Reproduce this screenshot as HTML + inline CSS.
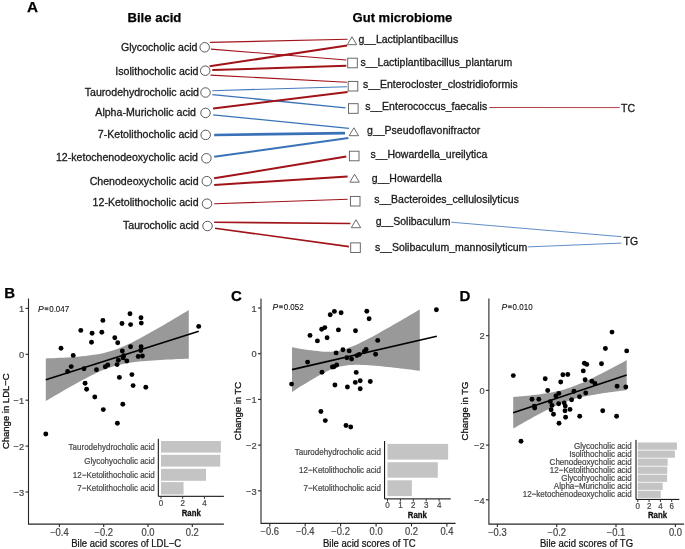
<!DOCTYPE html>
<html><head><meta charset="utf-8"><style>
html,body{margin:0;padding:0;background:#fff;}
svg{display:block;font-family:"Liberation Sans", sans-serif;will-change:transform;}
</style></head><body>
<svg width="685" height="549" viewBox="0 0 685 549">
<rect width="685" height="549" fill="#fff"/>
<text stroke="#000" stroke-width="0.25" x="27" y="11.8" font-size="15.3" font-weight="bold">A</text>
<text stroke="#000" stroke-width="0.25" x="127.5" y="22.3" font-size="13.1" font-weight="bold">Bile acid</text>
<text stroke="#000" stroke-width="0.25" x="352.6" y="22.2" font-size="13" font-weight="bold">Gut microbiome</text>
<line x1="210.0" y1="42.4" x2="347.6" y2="39.3" stroke="#a01319" stroke-width="1.1" stroke-opacity="1"/>
<line x1="210.9" y1="49.1" x2="346.3" y2="60.0" stroke="#a01319" stroke-width="1.1" stroke-opacity="1"/>
<line x1="209.6" y1="66.3" x2="347.1" y2="45.6" stroke="#a01319" stroke-width="2.0" stroke-opacity="1"/>
<line x1="212.3" y1="70.1" x2="346.3" y2="65.7" stroke="#a01319" stroke-width="2.0" stroke-opacity="1"/>
<line x1="210.5" y1="75.1" x2="346.9" y2="82.3" stroke="#a01319" stroke-width="1.1" stroke-opacity="1"/>
<line x1="212.3" y1="90.7" x2="346.9" y2="86.7" stroke="#3a72b8" stroke-width="1.15" stroke-opacity="0.95"/>
<line x1="212.3" y1="94.6" x2="345.5" y2="107.8" stroke="#3a72b8" stroke-width="1.3" stroke-opacity="1"/>
<line x1="213.1" y1="108.6" x2="347.6" y2="92.0" stroke="#a01319" stroke-width="2.0" stroke-opacity="1"/>
<line x1="213.1" y1="114.9" x2="349.0" y2="128.4" stroke="#3a72b8" stroke-width="1.3" stroke-opacity="1"/>
<line x1="214.2" y1="135.0" x2="345.0" y2="133.1" stroke="#3a72b8" stroke-width="2.6" stroke-opacity="1"/>
<line x1="214.2" y1="156.8" x2="348.4" y2="138.1" stroke="#3a72b8" stroke-width="2.0" stroke-opacity="1"/>
<line x1="214.2" y1="178.3" x2="346.3" y2="156.5" stroke="#a01319" stroke-width="2.0" stroke-opacity="1"/>
<line x1="214.2" y1="184.9" x2="347.6" y2="176.5" stroke="#a01319" stroke-width="2.0" stroke-opacity="1"/>
<line x1="214.2" y1="203.8" x2="347.6" y2="199.3" stroke="#a01319" stroke-width="1.1" stroke-opacity="1"/>
<line x1="214.2" y1="222.2" x2="350.3" y2="223.5" stroke="#a01319" stroke-width="1.6" stroke-opacity="1"/>
<line x1="215.0" y1="228.2" x2="349.0" y2="246.6" stroke="#a01319" stroke-width="1.6" stroke-opacity="1"/>
<line x1="489.3" y1="107.5" x2="619.7" y2="107.6" stroke="#a01319" stroke-width="0.9" stroke-opacity="0.9"/>
<line x1="451.2" y1="222.2" x2="621.4" y2="236.7" stroke="#3a72b8" stroke-width="0.9" stroke-opacity="0.9"/>
<line x1="527.7" y1="246.9" x2="621.4" y2="243.1" stroke="#3a72b8" stroke-width="0.9" stroke-opacity="0.9"/>
<text stroke="#1a1a1a" stroke-width="0.3" x="197.5" y="51.2" font-size="10.6" text-anchor="end" fill="#1a1a1a">Glycocholic acid</text>
<circle cx="204.7" cy="47.3" r="4.75" fill="#fff" stroke="#505050" stroke-width="0.95"/>
<text stroke="#1a1a1a" stroke-width="0.3" x="198.39999999999998" y="74.6" font-size="10.6" text-anchor="end" fill="#1a1a1a">Isolithocholic acid</text>
<circle cx="205.2" cy="70.7" r="4.75" fill="#fff" stroke="#505050" stroke-width="0.95"/>
<text stroke="#1a1a1a" stroke-width="0.3" x="199.0" y="96.4" font-size="10.6" text-anchor="end" fill="#1a1a1a">Taurodehydrocholic acid</text>
<circle cx="205.5" cy="92.5" r="4.75" fill="#fff" stroke="#505050" stroke-width="0.95"/>
<text stroke="#1a1a1a" stroke-width="0.3" x="196.0" y="116.2" font-size="10.6" text-anchor="end" fill="#1a1a1a">Alpha-Muricholic acid</text>
<circle cx="205.5" cy="112.9" r="4.75" fill="#fff" stroke="#505050" stroke-width="0.95"/>
<text stroke="#1a1a1a" stroke-width="0.3" x="197.89999999999998" y="138.4" font-size="10.6" text-anchor="end" fill="#1a1a1a">7-Ketolithocholic acid</text>
<circle cx="205.7" cy="134.9" r="4.75" fill="#fff" stroke="#505050" stroke-width="0.95"/>
<text stroke="#1a1a1a" stroke-width="0.3" x="197.89999999999998" y="161.4" font-size="10.6" text-anchor="end" fill="#1a1a1a">12-ketochenodeoxycholic acid</text>
<circle cx="206.4" cy="158.3" r="4.75" fill="#fff" stroke="#505050" stroke-width="0.95"/>
<text stroke="#1a1a1a" stroke-width="0.3" x="198.6" y="184.7" font-size="10.6" text-anchor="end" fill="#1a1a1a">Chenodeoxycholic acid</text>
<circle cx="206.8" cy="181.2" r="4.75" fill="#fff" stroke="#505050" stroke-width="0.95"/>
<text stroke="#1a1a1a" stroke-width="0.3" x="198.6" y="206.2" font-size="10.6" text-anchor="end" fill="#1a1a1a">12-Ketolithocholic acid</text>
<circle cx="207.0" cy="203.7" r="4.75" fill="#fff" stroke="#505050" stroke-width="0.95"/>
<text stroke="#1a1a1a" stroke-width="0.3" x="199.0" y="229.1" font-size="10.6" text-anchor="end" fill="#1a1a1a">Taurocholic acid</text>
<circle cx="207.5" cy="226.0" r="4.75" fill="#fff" stroke="#505050" stroke-width="0.95"/>
<text stroke="#1a1a1a" stroke-width="0.3" x="358.4" y="43.1" font-size="10.5" fill="#1a1a1a">g__Lactiplantibacillus</text>
<path d="M347.30,44.70 L352.00,36.80 L356.70,44.70 Z" fill="#fff" stroke="#5a5a5a" stroke-width="0.9" stroke-linejoin="miter"/>
<text stroke="#1a1a1a" stroke-width="0.3" x="360.5" y="65.5" font-size="10.5" fill="#1a1a1a">s__Lactiplantibacillus_plantarum</text>
<rect x="347.7" y="58.2" width="9.6" height="9.6" fill="#fff" stroke="#5a5a5a" stroke-width="0.9"/>
<text stroke="#1a1a1a" stroke-width="0.3" x="363.1" y="87.8" font-size="10.5" fill="#1a1a1a">s__Enterocloster_clostridioformis</text>
<rect x="348.2" y="81.4" width="9.6" height="9.6" fill="#fff" stroke="#5a5a5a" stroke-width="0.9"/>
<text stroke="#1a1a1a" stroke-width="0.3" x="365.2" y="110.1" font-size="10.5" fill="#1a1a1a">s__Enterococcus_faecalis</text>
<rect x="348.5" y="103.7" width="9.6" height="9.6" fill="#fff" stroke="#5a5a5a" stroke-width="0.9"/>
<text stroke="#1a1a1a" stroke-width="0.3" x="367.1" y="133.7" font-size="10.5" fill="#1a1a1a">g__Pseudoflavonifractor</text>
<path d="M349.20,135.70 L353.90,127.80 L358.60,135.70 Z" fill="#fff" stroke="#5a5a5a" stroke-width="0.9" stroke-linejoin="miter"/>
<text stroke="#1a1a1a" stroke-width="0.3" x="370.5" y="158.1" font-size="10.5" fill="#1a1a1a">s__Howardella_ureilytica</text>
<rect x="349.4" y="151.2" width="9.6" height="9.6" fill="#fff" stroke="#5a5a5a" stroke-width="0.9"/>
<text stroke="#1a1a1a" stroke-width="0.3" x="371.8" y="181.7" font-size="10.5" fill="#1a1a1a">g__Howardella</text>
<path d="M349.90,182.20 L354.60,174.30 L359.30,182.20 Z" fill="#fff" stroke="#5a5a5a" stroke-width="0.9" stroke-linejoin="miter"/>
<text stroke="#1a1a1a" stroke-width="0.3" x="374.2" y="202.8" font-size="10.5" fill="#1a1a1a">s__Bacteroides_cellulosilyticus</text>
<rect x="350.4" y="196.39999999999998" width="9.6" height="9.6" fill="#fff" stroke="#5a5a5a" stroke-width="0.9"/>
<text stroke="#1a1a1a" stroke-width="0.3" x="375.7" y="225.1" font-size="10.5" fill="#1a1a1a">g__Solibaculum</text>
<path d="M351.30,227.70 L356.00,219.80 L360.70,227.70 Z" fill="#fff" stroke="#5a5a5a" stroke-width="0.9" stroke-linejoin="miter"/>
<text stroke="#1a1a1a" stroke-width="0.3" x="375.0" y="250.6" font-size="10.5" fill="#1a1a1a">s__Solibaculum_mannosilyticum</text>
<rect x="350.7" y="242.89999999999998" width="9.6" height="9.6" fill="#fff" stroke="#5a5a5a" stroke-width="0.9"/>
<text stroke="#1a1a1a" stroke-width="0.3" x="621" y="111.6" font-size="10.5" fill="#1a1a1a">TC</text>
<text stroke="#1a1a1a" stroke-width="0.3" x="623.5" y="245.0" font-size="10.5" fill="#1a1a1a">TG</text>
<text stroke="#000" stroke-width="0.25" x="4.3" y="298" font-size="15" font-weight="bold">B</text>
<path d="M45.80,358.50 L49.38,358.35 L52.95,358.19 L56.52,358.02 L60.10,357.84 L63.67,357.64 L67.25,357.43 L70.82,357.20 L74.40,356.94 L77.97,356.66 L81.55,356.34 L85.12,355.98 L88.70,355.58 L92.28,355.11 L95.85,354.56 L99.42,353.93 L103.00,353.19 L106.57,352.33 L110.15,351.34 L113.72,350.21 L117.30,348.93 L120.88,347.52 L124.45,345.99 L128.02,344.36 L131.60,342.63 L135.18,340.83 L138.75,338.97 L142.32,337.05 L145.90,335.10 L149.47,333.11 L153.05,331.09 L156.62,329.05 L160.20,326.99 L163.77,324.91 L167.35,322.82 L170.93,320.72 L174.50,318.60 L178.07,316.48 L181.65,314.35 L185.23,312.22 L188.80,310.08 L188.80,358.68 L185.23,358.81 L181.65,358.94 L178.07,359.08 L174.50,359.23 L170.93,359.39 L167.35,359.56 L163.77,359.74 L160.20,359.93 L156.62,360.15 L153.05,360.38 L149.47,360.63 L145.90,360.91 L142.32,361.23 L138.75,361.58 L135.18,361.99 L131.60,362.46 L128.02,363.00 L124.45,363.64 L120.88,364.38 L117.30,365.24 L113.72,366.24 L110.15,367.38 L106.57,368.66 L103.00,370.07 L99.42,371.60 L95.85,373.24 L92.28,374.97 L88.70,376.77 L85.12,378.63 L81.55,380.55 L77.97,382.50 L74.40,384.49 L70.82,386.51 L67.25,388.55 L63.67,390.60 L60.10,392.68 L56.52,394.77 L52.95,396.87 L49.38,398.98 L45.80,401.10 Z" fill="#999999"/>
<line x1="45.8" y1="379.8" x2="198.8" y2="331.2" stroke="#000" stroke-width="1.6"/>
<circle cx="45.8" cy="434" r="2.45" fill="#000"/>
<circle cx="61" cy="348.2" r="2.45" fill="#000"/>
<circle cx="67.6" cy="371.5" r="2.45" fill="#000"/>
<circle cx="71.2" cy="366.6" r="2.45" fill="#000"/>
<circle cx="73.2" cy="355.4" r="2.45" fill="#000"/>
<circle cx="80.8" cy="330.4" r="2.45" fill="#000"/>
<circle cx="84" cy="368.7" r="2.45" fill="#000"/>
<circle cx="85.1" cy="383.3" r="2.45" fill="#000"/>
<circle cx="86.6" cy="389.2" r="2.45" fill="#000"/>
<circle cx="91.5" cy="342.2" r="2.45" fill="#000"/>
<circle cx="92.1" cy="333.2" r="2.45" fill="#000"/>
<circle cx="94.8" cy="397" r="2.45" fill="#000"/>
<circle cx="96.5" cy="369.8" r="2.45" fill="#000"/>
<circle cx="101.8" cy="332.2" r="2.45" fill="#000"/>
<circle cx="102.9" cy="320.4" r="2.45" fill="#000"/>
<circle cx="103.3" cy="409.6" r="2.45" fill="#000"/>
<circle cx="105.2" cy="366.8" r="2.45" fill="#000"/>
<circle cx="107.8" cy="365" r="2.45" fill="#000"/>
<circle cx="114.8" cy="337.8" r="2.45" fill="#000"/>
<circle cx="117.1" cy="364.6" r="2.45" fill="#000"/>
<circle cx="117.4" cy="423.3" r="2.45" fill="#000"/>
<circle cx="117.7" cy="342.8" r="2.45" fill="#000"/>
<circle cx="118.3" cy="360.3" r="2.45" fill="#000"/>
<circle cx="119.4" cy="377.4" r="2.45" fill="#000"/>
<circle cx="122" cy="323.5" r="2.45" fill="#000"/>
<circle cx="122.3" cy="351" r="2.45" fill="#000"/>
<circle cx="122.8" cy="404.2" r="2.45" fill="#000"/>
<circle cx="123.1" cy="357.9" r="2.45" fill="#000"/>
<circle cx="123.7" cy="355.8" r="2.45" fill="#000"/>
<circle cx="126.8" cy="361" r="2.45" fill="#000"/>
<circle cx="130" cy="313.7" r="2.45" fill="#000"/>
<circle cx="130.6" cy="324.6" r="2.45" fill="#000"/>
<circle cx="130.6" cy="346.8" r="2.45" fill="#000"/>
<circle cx="131.9" cy="374.6" r="2.45" fill="#000"/>
<circle cx="133.1" cy="385.6" r="2.45" fill="#000"/>
<circle cx="141" cy="317.7" r="2.45" fill="#000"/>
<circle cx="141.3" cy="323.1" r="2.45" fill="#000"/>
<circle cx="141.1" cy="346.8" r="2.45" fill="#000"/>
<circle cx="140.7" cy="350.5" r="2.45" fill="#000"/>
<circle cx="138.2" cy="356.5" r="2.45" fill="#000"/>
<circle cx="142.4" cy="356" r="2.45" fill="#000"/>
<circle cx="145.8" cy="387.3" r="2.45" fill="#000"/>
<circle cx="198.7" cy="326.4" r="2.45" fill="#000"/>
<path d="M28.5,298.4 V524.1 H223.9" fill="none" stroke="#262626" stroke-width="1.1" />
<line x1="25.5" y1="308.4" x2="28.5" y2="308.4" stroke="#262626" stroke-width="1.1"/>
<text stroke="#474747" stroke-width="0.2" transform="translate(24.20,312.10) scale(1,1.06)" font-size="9.3" text-anchor="end" fill="#474747">1</text>
<line x1="25.5" y1="354.3" x2="28.5" y2="354.3" stroke="#262626" stroke-width="1.1"/>
<text stroke="#474747" stroke-width="0.2" transform="translate(24.20,358.00) scale(1,1.06)" font-size="9.3" text-anchor="end" fill="#474747">0</text>
<line x1="25.5" y1="400.2" x2="28.5" y2="400.2" stroke="#262626" stroke-width="1.1"/>
<text stroke="#474747" stroke-width="0.2" transform="translate(24.20,403.90) scale(1,1.06)" font-size="9.3" text-anchor="end" fill="#474747">−1</text>
<line x1="25.5" y1="446.1" x2="28.5" y2="446.1" stroke="#262626" stroke-width="1.1"/>
<text stroke="#474747" stroke-width="0.2" transform="translate(24.20,449.80) scale(1,1.06)" font-size="9.3" text-anchor="end" fill="#474747">−2</text>
<line x1="25.5" y1="492.0" x2="28.5" y2="492.0" stroke="#262626" stroke-width="1.1"/>
<text stroke="#474747" stroke-width="0.2" transform="translate(24.20,495.70) scale(1,1.06)" font-size="9.3" text-anchor="end" fill="#474747">−3</text>
<line x1="59.4" y1="524.1" x2="59.4" y2="527.1" stroke="#262626" stroke-width="1.1"/>
<text stroke="#474747" stroke-width="0.2" transform="translate(59.40,535.90) scale(1,1.08)" font-size="9.4" text-anchor="middle" fill="#474747">−0.4</text>
<line x1="103.7" y1="524.1" x2="103.7" y2="527.1" stroke="#262626" stroke-width="1.1"/>
<text stroke="#474747" stroke-width="0.2" transform="translate(103.70,535.90) scale(1,1.08)" font-size="9.4" text-anchor="middle" fill="#474747">−0.2</text>
<line x1="148.0" y1="524.1" x2="148.0" y2="527.1" stroke="#262626" stroke-width="1.1"/>
<text stroke="#474747" stroke-width="0.2" transform="translate(148.00,535.90) scale(1,1.08)" font-size="9.4" text-anchor="middle" fill="#474747">0.0</text>
<line x1="192.3" y1="524.1" x2="192.3" y2="527.1" stroke="#262626" stroke-width="1.1"/>
<text stroke="#474747" stroke-width="0.2" transform="translate(192.30,535.90) scale(1,1.08)" font-size="9.4" text-anchor="middle" fill="#474747">0.2</text>
<text stroke="#111" stroke-width="0.2" transform="translate(126.20,547.40) scale(1,1.18)" font-size="9.55" text-anchor="middle" fill="#111">Bile acid scores of LDL−C</text>
<text stroke="#111" stroke-width="0.3" transform="translate(9.0,411.2) rotate(-90)" x="0" y="0" font-size="9.5" text-anchor="middle" fill="#111">Change in LDL−C</text>
<text stroke="#111" stroke-width="0.1" x="38" y="312" font-size="8.6" font-style="italic" fill="#111">P</text>
<rect x="44.6" y="307.3" width="3.8" height="2.9" fill="#666"/>
<text stroke="#111" stroke-width="0.1" transform="translate(49.2,312) scale(0.93,1)" font-size="8.6" fill="#111" class="pv">0.047</text>
<rect x="161.0" y="441" width="59.891999999999996" height="11.600000000000023" fill="#c4c4c4"/>
<text stroke="#474747" stroke-width="0.2" transform="translate(154.80,449.73) scale(1,1.12)" font-size="8.0" text-anchor="end" fill="#474747">Taurodehydrocholic acid</text>
<rect x="161.0" y="454.8" width="59.241" height="11.800000000000011" fill="#c4c4c4"/>
<text stroke="#474747" stroke-width="0.2" transform="translate(154.80,463.63) scale(1,1.12)" font-size="8.0" text-anchor="end" fill="#474747">Glycohyocholic acid</text>
<rect x="161.0" y="468.8" width="45.0275" height="12.0" fill="#c4c4c4"/>
<text stroke="#474747" stroke-width="0.2" transform="translate(154.80,477.73) scale(1,1.12)" font-size="8.0" text-anchor="end" fill="#474747">12−Ketolithocholic acid</text>
<rect x="161.0" y="482.1" width="22.568" height="12.399999999999977" fill="#c4c4c4"/>
<text stroke="#474747" stroke-width="0.2" transform="translate(154.80,491.23) scale(1,1.12)" font-size="8.0" text-anchor="end" fill="#474747">7−Ketolithocholic acid</text>
<path d="M158.3,438.8 V496.3 H223.9" fill="none" stroke="#000" stroke-width="1"/>
<line x1="161.0" y1="496.3" x2="161.0" y2="498.90000000000003" stroke="#333" stroke-width="1"/>
<text stroke="#474747" stroke-width="0.2" transform="translate(161.00,505.70) scale(1,1.18)" font-size="8.0" text-anchor="middle" fill="#474747">0</text>
<line x1="182.7" y1="496.3" x2="182.7" y2="498.90000000000003" stroke="#333" stroke-width="1"/>
<text stroke="#474747" stroke-width="0.2" transform="translate(182.70,505.70) scale(1,1.18)" font-size="8.0" text-anchor="middle" fill="#474747">2</text>
<line x1="204.4" y1="496.3" x2="204.4" y2="498.90000000000003" stroke="#333" stroke-width="1"/>
<text stroke="#474747" stroke-width="0.2" transform="translate(204.40,505.70) scale(1,1.18)" font-size="8.0" text-anchor="middle" fill="#474747">4</text>
<text stroke="#111" stroke-width="0.25" transform="translate(191.20,516.20) scale(1,1.2)" font-size="7.8" text-anchor="middle" fill="#111" font-weight="bold">Rank</text>
<text stroke="#000" stroke-width="0.25" x="231" y="301.3" font-size="15" font-weight="bold">C</text>
<path d="M292.00,347.30 L295.19,347.85 L298.39,348.39 L301.58,348.91 L304.78,349.41 L307.98,349.89 L311.17,350.34 L314.37,350.75 L317.56,351.11 L320.75,351.41 L323.95,351.63 L327.14,351.74 L330.34,351.73 L333.54,351.54 L336.73,351.16 L339.93,350.55 L343.12,349.73 L346.31,348.73 L349.51,347.59 L352.70,346.31 L355.90,344.92 L359.10,343.43 L362.29,341.87 L365.49,340.26 L368.68,338.59 L371.88,336.89 L375.07,335.15 L378.26,333.39 L381.46,331.61 L384.65,329.81 L387.85,328.00 L391.05,326.18 L394.24,324.34 L397.44,322.50 L400.63,320.65 L403.82,318.79 L407.02,316.92 L410.22,315.05 L413.41,313.18 L416.61,311.30 L419.80,309.42 L419.80,370.82 L416.61,370.41 L413.41,370.01 L410.22,369.61 L407.02,369.22 L403.82,368.83 L400.63,368.44 L397.44,368.06 L394.24,367.69 L391.05,367.33 L387.85,366.98 L384.65,366.64 L381.46,366.32 L378.26,366.01 L375.07,365.73 L371.88,365.46 L368.68,365.23 L365.49,365.04 L362.29,364.90 L359.10,364.81 L355.90,364.80 L352.70,364.89 L349.51,365.08 L346.31,365.41 L343.12,365.89 L339.93,366.55 L336.73,367.41 L333.54,368.50 L330.34,369.79 L327.14,371.24 L323.95,372.83 L320.75,374.53 L317.56,376.30 L314.37,378.14 L311.17,380.02 L307.98,381.94 L304.78,383.89 L301.58,385.87 L298.39,387.86 L295.19,389.88 L292.00,391.90 Z" fill="#999999"/>
<line x1="292.0" y1="369.6" x2="436.8" y2="336.2" stroke="#000" stroke-width="1.6"/>
<circle cx="291.6" cy="384.1" r="2.45" fill="#000"/>
<circle cx="307.6" cy="362.1" r="2.45" fill="#000"/>
<circle cx="310" cy="335.4" r="2.45" fill="#000"/>
<circle cx="317.4" cy="340.9" r="2.45" fill="#000"/>
<circle cx="321.7" cy="329.2" r="2.45" fill="#000"/>
<circle cx="324.8" cy="327.6" r="2.45" fill="#000"/>
<circle cx="327.1" cy="337.8" r="2.45" fill="#000"/>
<circle cx="330.2" cy="314.8" r="2.45" fill="#000"/>
<circle cx="334.4" cy="311.4" r="2.45" fill="#000"/>
<circle cx="341.1" cy="312.8" r="2.45" fill="#000"/>
<circle cx="338.4" cy="329.9" r="2.45" fill="#000"/>
<circle cx="322" cy="372.3" r="2.45" fill="#000"/>
<circle cx="332.4" cy="367" r="2.45" fill="#000"/>
<circle cx="334" cy="366.8" r="2.45" fill="#000"/>
<circle cx="336.7" cy="365" r="2.45" fill="#000"/>
<circle cx="336.1" cy="352.9" r="2.45" fill="#000"/>
<circle cx="342.9" cy="349.8" r="2.45" fill="#000"/>
<circle cx="349.2" cy="350.9" r="2.45" fill="#000"/>
<circle cx="346.9" cy="357.7" r="2.45" fill="#000"/>
<circle cx="351.6" cy="359.1" r="2.45" fill="#000"/>
<circle cx="355.5" cy="330.8" r="2.45" fill="#000"/>
<circle cx="356.2" cy="372.4" r="2.45" fill="#000"/>
<circle cx="355.3" cy="382.4" r="2.45" fill="#000"/>
<circle cx="360.2" cy="380.8" r="2.45" fill="#000"/>
<circle cx="360.2" cy="388.8" r="2.45" fill="#000"/>
<circle cx="356.9" cy="355.6" r="2.45" fill="#000"/>
<circle cx="359.3" cy="354.4" r="2.45" fill="#000"/>
<circle cx="364.4" cy="351.4" r="2.45" fill="#000"/>
<circle cx="366.1" cy="349.5" r="2.45" fill="#000"/>
<circle cx="366.8" cy="311.2" r="2.45" fill="#000"/>
<circle cx="369.1" cy="318.7" r="2.45" fill="#000"/>
<circle cx="377.7" cy="340.4" r="2.45" fill="#000"/>
<circle cx="375.6" cy="354.2" r="2.45" fill="#000"/>
<circle cx="370.3" cy="381.5" r="2.45" fill="#000"/>
<circle cx="334.9" cy="385" r="2.45" fill="#000"/>
<circle cx="347.4" cy="387" r="2.45" fill="#000"/>
<circle cx="436.4" cy="309.8" r="2.45" fill="#000"/>
<circle cx="320.9" cy="411.5" r="2.45" fill="#000"/>
<circle cx="325.3" cy="420.6" r="2.45" fill="#000"/>
<circle cx="346" cy="425.5" r="2.45" fill="#000"/>
<circle cx="350.7" cy="427" r="2.45" fill="#000"/>
<path d="M261.0,298.4 V523.4 H455.6" fill="none" stroke="#262626" stroke-width="1.1" />
<line x1="258.0" y1="308.0" x2="261.0" y2="308.0" stroke="#262626" stroke-width="1.1"/>
<text stroke="#474747" stroke-width="0.2" transform="translate(256.70,311.70) scale(1,1.06)" font-size="9.3" text-anchor="end" fill="#474747">1</text>
<line x1="258.0" y1="353.7" x2="261.0" y2="353.7" stroke="#262626" stroke-width="1.1"/>
<text stroke="#474747" stroke-width="0.2" transform="translate(256.70,357.40) scale(1,1.06)" font-size="9.3" text-anchor="end" fill="#474747">0</text>
<line x1="258.0" y1="399.4" x2="261.0" y2="399.4" stroke="#262626" stroke-width="1.1"/>
<text stroke="#474747" stroke-width="0.2" transform="translate(256.70,403.10) scale(1,1.06)" font-size="9.3" text-anchor="end" fill="#474747">−1</text>
<line x1="258.0" y1="445.1" x2="261.0" y2="445.1" stroke="#262626" stroke-width="1.1"/>
<text stroke="#474747" stroke-width="0.2" transform="translate(256.70,448.80) scale(1,1.06)" font-size="9.3" text-anchor="end" fill="#474747">−2</text>
<line x1="258.0" y1="490.8" x2="261.0" y2="490.8" stroke="#262626" stroke-width="1.1"/>
<text stroke="#474747" stroke-width="0.2" transform="translate(256.70,494.50) scale(1,1.06)" font-size="9.3" text-anchor="end" fill="#474747">−3</text>
<line x1="269.8" y1="523.4" x2="269.8" y2="526.4" stroke="#262626" stroke-width="1.1"/>
<text stroke="#474747" stroke-width="0.2" transform="translate(269.80,535.20) scale(1,1.08)" font-size="9.4" text-anchor="middle" fill="#474747">−0.6</text>
<line x1="305.2" y1="523.4" x2="305.2" y2="526.4" stroke="#262626" stroke-width="1.1"/>
<text stroke="#474747" stroke-width="0.2" transform="translate(305.20,535.20) scale(1,1.08)" font-size="9.4" text-anchor="middle" fill="#474747">−0.4</text>
<line x1="340.6" y1="523.4" x2="340.6" y2="526.4" stroke="#262626" stroke-width="1.1"/>
<text stroke="#474747" stroke-width="0.2" transform="translate(340.60,535.20) scale(1,1.08)" font-size="9.4" text-anchor="middle" fill="#474747">−0.2</text>
<line x1="376.1" y1="523.4" x2="376.1" y2="526.4" stroke="#262626" stroke-width="1.1"/>
<text stroke="#474747" stroke-width="0.2" transform="translate(376.10,535.20) scale(1,1.08)" font-size="9.4" text-anchor="middle" fill="#474747">0.0</text>
<line x1="411.5" y1="523.4" x2="411.5" y2="526.4" stroke="#262626" stroke-width="1.1"/>
<text stroke="#474747" stroke-width="0.2" transform="translate(411.50,535.20) scale(1,1.08)" font-size="9.4" text-anchor="middle" fill="#474747">0.2</text>
<line x1="446.9" y1="523.4" x2="446.9" y2="526.4" stroke="#262626" stroke-width="1.1"/>
<text stroke="#474747" stroke-width="0.2" transform="translate(446.90,535.20) scale(1,1.08)" font-size="9.4" text-anchor="middle" fill="#474747">0.4</text>
<text stroke="#111" stroke-width="0.2" transform="translate(369.30,546.70) scale(1,1.18)" font-size="9.55" text-anchor="middle" fill="#111">Bile acid scores of TC</text>
<text stroke="#111" stroke-width="0.3" transform="translate(240.5,411) rotate(-90)" x="0" y="0" font-size="9.5" text-anchor="middle" fill="#111">Change in TC</text>
<text stroke="#111" stroke-width="0.1" x="272.5" y="310" font-size="8.6" font-style="italic" fill="#111">P</text>
<rect x="279.1" y="305.3" width="3.8" height="2.9" fill="#666"/>
<text stroke="#111" stroke-width="0.1" transform="translate(283.7,310) scale(0.93,1)" font-size="8.6" fill="#111" class="pv">0.052</text>
<rect x="387.5" y="443.9" width="60.63" height="15.700000000000045" fill="#c4c4c4"/>
<text stroke="#474747" stroke-width="0.2" transform="translate(381.00,454.68) scale(1,1.12)" font-size="8.0" text-anchor="end" fill="#474747">Taurodehydrocholic acid</text>
<rect x="387.5" y="462.2" width="50.31" height="15.5" fill="#c4c4c4"/>
<text stroke="#474747" stroke-width="0.2" transform="translate(381.00,472.88) scale(1,1.12)" font-size="8.0" text-anchor="end" fill="#474747">12−Ketolithocholic acid</text>
<rect x="387.5" y="480.3" width="24.381" height="15.800000000000011" fill="#c4c4c4"/>
<text stroke="#474747" stroke-width="0.2" transform="translate(381.00,491.13) scale(1,1.12)" font-size="8.0" text-anchor="end" fill="#474747">7−Ketolithocholic acid</text>
<path d="M384.6,441.0 V498.9 H450.8" fill="none" stroke="#000" stroke-width="1"/>
<line x1="387.5" y1="498.9" x2="387.5" y2="501.5" stroke="#333" stroke-width="1"/>
<text stroke="#474747" stroke-width="0.2" transform="translate(387.50,508.30) scale(1,1.18)" font-size="8.0" text-anchor="middle" fill="#474747">0</text>
<line x1="400.4" y1="498.9" x2="400.4" y2="501.5" stroke="#333" stroke-width="1"/>
<text stroke="#474747" stroke-width="0.2" transform="translate(400.40,508.30) scale(1,1.18)" font-size="8.0" text-anchor="middle" fill="#474747">1</text>
<line x1="413.3" y1="498.9" x2="413.3" y2="501.5" stroke="#333" stroke-width="1"/>
<text stroke="#474747" stroke-width="0.2" transform="translate(413.30,508.30) scale(1,1.18)" font-size="8.0" text-anchor="middle" fill="#474747">2</text>
<line x1="426.2" y1="498.9" x2="426.2" y2="501.5" stroke="#333" stroke-width="1"/>
<text stroke="#474747" stroke-width="0.2" transform="translate(426.20,508.30) scale(1,1.18)" font-size="8.0" text-anchor="middle" fill="#474747">3</text>
<line x1="439.1" y1="498.9" x2="439.1" y2="501.5" stroke="#333" stroke-width="1"/>
<text stroke="#474747" stroke-width="0.2" transform="translate(439.10,508.30) scale(1,1.18)" font-size="8.0" text-anchor="middle" fill="#474747">4</text>
<text stroke="#111" stroke-width="0.25" transform="translate(417.40,518.30) scale(1,1.2)" font-size="7.8" text-anchor="middle" fill="#111" font-weight="bold">Rank</text>
<text stroke="#000" stroke-width="0.25" x="459.5" y="301.2" font-size="15" font-weight="bold">D</text>
<path d="M513.20,397.10 L516.04,396.84 L518.88,396.57 L521.71,396.29 L524.55,396.00 L527.39,395.71 L530.23,395.40 L533.06,395.08 L535.90,394.74 L538.74,394.38 L541.58,394.01 L544.41,393.60 L547.25,393.16 L550.09,392.69 L552.93,392.17 L555.76,391.59 L558.60,390.95 L561.44,390.25 L564.28,389.46 L567.11,388.59 L569.95,387.63 L572.79,386.61 L575.62,385.52 L578.46,384.37 L581.30,383.17 L584.14,381.91 L586.98,380.61 L589.81,379.27 L592.65,377.90 L595.49,376.51 L598.33,375.08 L601.16,373.64 L604.00,372.18 L606.84,370.71 L609.68,369.22 L612.51,367.72 L615.35,366.21 L618.19,364.69 L621.03,363.17 L623.86,361.64 L626.70,360.10 L626.70,390.10 L623.86,390.45 L621.03,390.80 L618.19,391.16 L615.35,391.53 L612.51,391.91 L609.68,392.29 L606.84,392.69 L604.00,393.10 L601.16,393.52 L598.33,393.97 L595.49,394.43 L592.65,394.92 L589.81,395.43 L586.98,395.98 L584.14,396.57 L581.30,397.19 L578.46,397.87 L575.62,398.61 L572.79,399.40 L569.95,400.27 L567.11,401.20 L564.28,402.21 L561.44,403.31 L558.60,404.49 L555.76,405.73 L552.93,407.04 L550.09,408.41 L547.25,409.82 L544.41,411.26 L541.58,412.74 L538.74,414.25 L535.90,415.78 L533.06,417.33 L530.23,418.89 L527.39,420.47 L524.55,422.06 L521.71,423.66 L518.88,425.26 L516.04,426.88 L513.20,428.50 Z" fill="#999999"/>
<line x1="513.2" y1="412.8" x2="626.7" y2="375.1" stroke="#000" stroke-width="1.6"/>
<circle cx="513.3" cy="375.6" r="2.45" fill="#000"/>
<circle cx="521" cy="441.3" r="2.45" fill="#000"/>
<circle cx="532" cy="399.2" r="2.45" fill="#000"/>
<circle cx="538.8" cy="399.2" r="2.45" fill="#000"/>
<circle cx="534.3" cy="406.1" r="2.45" fill="#000"/>
<circle cx="534.7" cy="408" r="2.45" fill="#000"/>
<circle cx="545.2" cy="378.7" r="2.45" fill="#000"/>
<circle cx="547.7" cy="390.5" r="2.45" fill="#000"/>
<circle cx="550.3" cy="401.6" r="2.45" fill="#000"/>
<circle cx="551.1" cy="409.7" r="2.45" fill="#000"/>
<circle cx="553.5" cy="414.2" r="2.45" fill="#000"/>
<circle cx="552" cy="405.4" r="2.45" fill="#000"/>
<circle cx="555.9" cy="395.9" r="2.45" fill="#000"/>
<circle cx="558.8" cy="393.4" r="2.45" fill="#000"/>
<circle cx="558.7" cy="403.7" r="2.45" fill="#000"/>
<circle cx="560.7" cy="382" r="2.45" fill="#000"/>
<circle cx="562.9" cy="374.8" r="2.45" fill="#000"/>
<circle cx="567.8" cy="374.5" r="2.45" fill="#000"/>
<circle cx="564.2" cy="402.9" r="2.45" fill="#000"/>
<circle cx="565.3" cy="406.1" r="2.45" fill="#000"/>
<circle cx="565" cy="410.8" r="2.45" fill="#000"/>
<circle cx="565.6" cy="417.2" r="2.45" fill="#000"/>
<circle cx="559" cy="423.3" r="2.45" fill="#000"/>
<circle cx="570" cy="409.4" r="2.45" fill="#000"/>
<circle cx="571.6" cy="399.8" r="2.45" fill="#000"/>
<circle cx="574" cy="391.2" r="2.45" fill="#000"/>
<circle cx="579.5" cy="396.7" r="2.45" fill="#000"/>
<circle cx="579.7" cy="416.3" r="2.45" fill="#000"/>
<circle cx="583.3" cy="370.9" r="2.45" fill="#000"/>
<circle cx="584.4" cy="363.2" r="2.45" fill="#000"/>
<circle cx="586.8" cy="364.4" r="2.45" fill="#000"/>
<circle cx="585.1" cy="379.8" r="2.45" fill="#000"/>
<circle cx="585.7" cy="393" r="2.45" fill="#000"/>
<circle cx="591.9" cy="381.2" r="2.45" fill="#000"/>
<circle cx="594.9" cy="383.5" r="2.45" fill="#000"/>
<circle cx="601.5" cy="363.7" r="2.45" fill="#000"/>
<circle cx="602.7" cy="410.7" r="2.45" fill="#000"/>
<circle cx="605.4" cy="348.5" r="2.45" fill="#000"/>
<circle cx="612" cy="332.1" r="2.45" fill="#000"/>
<circle cx="617.1" cy="386.3" r="2.45" fill="#000"/>
<circle cx="616.6" cy="416.3" r="2.45" fill="#000"/>
<circle cx="625.8" cy="387" r="2.45" fill="#000"/>
<circle cx="626.7" cy="350.9" r="2.45" fill="#000"/>
<path d="M488.9,298.4 V524.1 H684.1" fill="none" stroke="#262626" stroke-width="1.1" />
<line x1="485.9" y1="335.7" x2="488.9" y2="335.7" stroke="#262626" stroke-width="1.1"/>
<text stroke="#474747" stroke-width="0.2" transform="translate(484.60,339.40) scale(1,1.06)" font-size="9.3" text-anchor="end" fill="#474747">2</text>
<line x1="485.9" y1="390.4" x2="488.9" y2="390.4" stroke="#262626" stroke-width="1.1"/>
<text stroke="#474747" stroke-width="0.2" transform="translate(484.60,394.10) scale(1,1.06)" font-size="9.3" text-anchor="end" fill="#474747">0</text>
<line x1="485.9" y1="445.1" x2="488.9" y2="445.1" stroke="#262626" stroke-width="1.1"/>
<text stroke="#474747" stroke-width="0.2" transform="translate(484.60,448.80) scale(1,1.06)" font-size="9.3" text-anchor="end" fill="#474747">−2</text>
<line x1="485.9" y1="499.8" x2="488.9" y2="499.8" stroke="#262626" stroke-width="1.1"/>
<text stroke="#474747" stroke-width="0.2" transform="translate(484.60,503.50) scale(1,1.06)" font-size="9.3" text-anchor="end" fill="#474747">−4</text>
<line x1="497.4" y1="524.1" x2="497.4" y2="527.1" stroke="#262626" stroke-width="1.1"/>
<text stroke="#474747" stroke-width="0.2" transform="translate(497.40,535.90) scale(1,1.08)" font-size="9.4" text-anchor="middle" fill="#474747">−0.3</text>
<line x1="556.7" y1="524.1" x2="556.7" y2="527.1" stroke="#262626" stroke-width="1.1"/>
<text stroke="#474747" stroke-width="0.2" transform="translate(556.70,535.90) scale(1,1.08)" font-size="9.4" text-anchor="middle" fill="#474747">−0.2</text>
<line x1="616.0" y1="524.1" x2="616.0" y2="527.1" stroke="#262626" stroke-width="1.1"/>
<text stroke="#474747" stroke-width="0.2" transform="translate(616.00,535.90) scale(1,1.08)" font-size="9.4" text-anchor="middle" fill="#474747">−0.1</text>
<line x1="675.4" y1="524.1" x2="675.4" y2="527.1" stroke="#262626" stroke-width="1.1"/>
<text stroke="#474747" stroke-width="0.2" transform="translate(675.40,535.90) scale(1,1.08)" font-size="9.4" text-anchor="middle" fill="#474747">0.0</text>
<text stroke="#111" stroke-width="0.2" transform="translate(586.50,547.40) scale(1,1.18)" font-size="9.55" text-anchor="middle" fill="#111">Bile acid scores of TG</text>
<text stroke="#111" stroke-width="0.3" transform="translate(468.0,411) rotate(-90)" x="0" y="0" font-size="9.5" text-anchor="middle" fill="#111">Change in TG</text>
<text stroke="#111" stroke-width="0.1" x="501.4" y="310" font-size="8.6" font-style="italic" fill="#111">P</text>
<rect x="508.0" y="305.3" width="3.8" height="2.9" fill="#666"/>
<text stroke="#111" stroke-width="0.1" transform="translate(512.6,310) scale(0.93,1)" font-size="8.6" fill="#111" class="pv">0.010</text>
<rect x="637.8" y="442.5" width="39.098" height="7.199999999999989" fill="#c4c4c4"/>
<text stroke="#474747" stroke-width="0.2" transform="translate(631.80,449.03) scale(1,1.12)" font-size="8.0" text-anchor="end" fill="#474747">Glycocholic acid</text>
<rect x="637.8" y="450.54" width="37.064" height="7.199999999999989" fill="#c4c4c4"/>
<text stroke="#474747" stroke-width="0.2" transform="translate(631.80,457.07) scale(1,1.12)" font-size="8.0" text-anchor="end" fill="#474747">Isolithocholic acid</text>
<rect x="637.8" y="458.58" width="29.8885" height="7.199999999999989" fill="#c4c4c4"/>
<text stroke="#474747" stroke-width="0.2" transform="translate(631.80,465.11) scale(1,1.12)" font-size="8.0" text-anchor="end" fill="#474747">Chenodeoxycholic acid</text>
<rect x="637.8" y="466.62" width="29.493000000000002" height="7.199999999999989" fill="#c4c4c4"/>
<text stroke="#474747" stroke-width="0.2" transform="translate(631.80,473.15) scale(1,1.12)" font-size="8.0" text-anchor="end" fill="#474747">12−Ketolithocholic acid</text>
<rect x="637.8" y="474.66" width="29.323500000000003" height="7.199999999999989" fill="#c4c4c4"/>
<text stroke="#474747" stroke-width="0.2" transform="translate(631.80,481.19) scale(1,1.12)" font-size="8.0" text-anchor="end" fill="#474747">Glycohyocholic acid</text>
<rect x="637.8" y="482.7" width="24.916500000000003" height="7.199999999999989" fill="#c4c4c4"/>
<text stroke="#474747" stroke-width="0.2" transform="translate(631.80,489.23) scale(1,1.12)" font-size="8.0" text-anchor="end" fill="#474747">Alpha−Muricholic acid</text>
<rect x="637.8" y="490.74" width="22.939" height="7.199999999999989" fill="#c4c4c4"/>
<text stroke="#474747" stroke-width="0.2" transform="translate(631.80,497.27) scale(1,1.12)" font-size="8.0" text-anchor="end" fill="#474747">12−ketochenodeoxycholic acid</text>
<path d="M636.0,439.9 V499.4 H679.3" fill="none" stroke="#000" stroke-width="1"/>
<line x1="637.8" y1="499.4" x2="637.8" y2="502.0" stroke="#333" stroke-width="1"/>
<text stroke="#474747" stroke-width="0.2" transform="translate(637.80,508.80) scale(1,1.18)" font-size="8.0" text-anchor="middle" fill="#474747">0</text>
<line x1="649.0999999999999" y1="499.4" x2="649.0999999999999" y2="502.0" stroke="#333" stroke-width="1"/>
<text stroke="#474747" stroke-width="0.2" transform="translate(649.10,508.80) scale(1,1.18)" font-size="8.0" text-anchor="middle" fill="#474747">2</text>
<line x1="660.4" y1="499.4" x2="660.4" y2="502.0" stroke="#333" stroke-width="1"/>
<text stroke="#474747" stroke-width="0.2" transform="translate(660.40,508.80) scale(1,1.18)" font-size="8.0" text-anchor="middle" fill="#474747">4</text>
<line x1="671.6999999999999" y1="499.4" x2="671.6999999999999" y2="502.0" stroke="#333" stroke-width="1"/>
<text stroke="#474747" stroke-width="0.2" transform="translate(671.70,508.80) scale(1,1.18)" font-size="8.0" text-anchor="middle" fill="#474747">6</text>
<text stroke="#111" stroke-width="0.25" transform="translate(657.50,518.30) scale(1,1.2)" font-size="7.8" text-anchor="middle" fill="#111" font-weight="bold">Rank</text>
</svg></body></html>
